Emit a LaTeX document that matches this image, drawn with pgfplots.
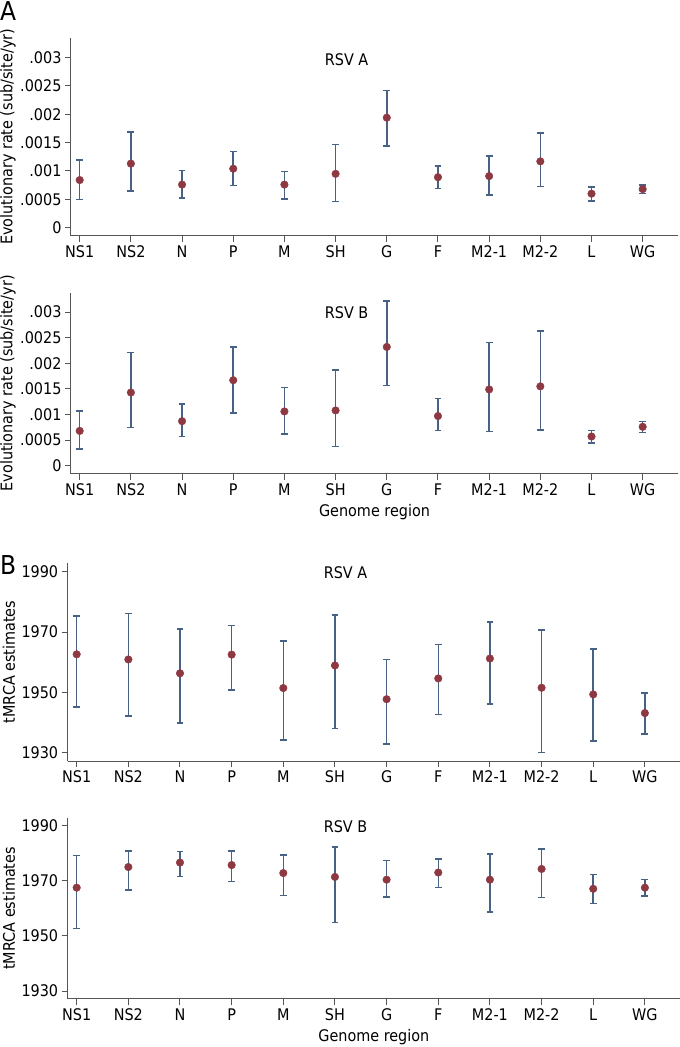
\documentclass[border=0pt]{standalone}
\usepackage{pgfplots}
\pgfplotsset{compat=1.18}
\usepackage{pgfplotstable}
\usepackage{fontspec}
\setmainfont{DejaVu Sans}[FakeStretch=0.9]
\definecolor{barcol}{RGB}{72,98,134}
\definecolor{dotcol}{RGB}{142,56,66}
\definecolor{axcol}{RGB}{85,85,85}

\pgfplotstableread{
x y lo hi
0 0.00084 0.00050 0.00119
1 0.00113 0.00065 0.00169
2 0.00076 0.00052 0.00101
3 0.00104 0.00074 0.00134
4 0.00076 0.00051 0.00099
5 0.00095 0.00046 0.00147
6 0.00194 0.00144 0.00242
7 0.00089 0.00069 0.00109
8 0.00091 0.00058 0.00126
9 0.00117 0.00073 0.00167
10 0.00060 0.00047 0.00072
11 0.00068 0.00060 0.00075
}\rateA

\pgfplotstableread{
x y lo hi
0 0.00068 0.00033 0.00107
1 0.00143 0.00075 0.00221
2 0.00087 0.00057 0.00121
3 0.00167 0.00103 0.00232
4 0.00106 0.00062 0.00153
5 0.00108 0.00038 0.00187
6 0.00232 0.00157 0.00322
7 0.00097 0.00069 0.00131
8 0.00149 0.00067 0.00241
9 0.00155 0.00070 0.00263
10 0.00057 0.00044 0.00069
11 0.00076 0.00065 0.00086
}\rateB

\pgfplotstableread{
x y lo hi
0 1962.6 1945.1 1975.3
1 1960.9 1942.2 1976.1
2 1956.3 1939.8 1971.0
3 1962.5 1950.7 1972.2
4 1951.4 1934.1 1967.0
5 1958.9 1938.0 1975.7
6 1947.7 1932.8 1960.9
7 1954.6 1942.6 1965.8
8 1961.2 1946.1 1973.4
9 1951.5 1930.0 1970.6
10 1949.3 1933.9 1964.4
11 1943.1 1936.1 1949.7
}\tmrcaA

\pgfplotstableread{
x y lo hi
0 1967.5 1952.7 1979.2
1 1975.0 1966.7 1980.9
2 1976.6 1971.6 1980.6
3 1975.7 1969.7 1980.9
4 1972.8 1964.6 1979.4
5 1971.4 1954.8 1982.3
6 1970.4 1964.1 1977.3
7 1973.0 1967.6 1977.9
8 1970.4 1958.7 1979.8
9 1974.3 1963.9 1981.5
10 1967.1 1961.7 1972.3
11 1967.5 1964.5 1970.5
}\tmrcaB

\newcommand{\fs}{\fontsize{16}{19}\selectfont}
\pgfplotsset{
  panel/.style={
    scale only axis,
    axis lines*=left,
    axis line style={axcol, line width=1pt, -},
    tick style={axcol, line width=1pt},
    tick align=outside,
    major tick length=6pt,
    scaled y ticks=false,
    xtick={0,...,11},
    xticklabels={NS1,NS2,N,P,M,SH,G,F,M2-1,M2-2,L,WG},
    tick label style={font=\fs, text=black},
    label style={font=\fs},
    clip=false,
  },
  pts/.style={
    draw=none, mark=*, mark size=3.8pt,
    mark options={fill=dotcol, draw=dotcol},
    error bars/.cd, y dir=both, y explicit,
    error mark=|,
    error bar style={barcol, line width=1.5pt},
    error mark options={barcol, line width=1.5pt, mark size=3.4pt},
  },
}

\begin{document}
\begin{tikzpicture}
\path[use as bounding box] (0,0) rectangle (680pt,1047pt);

% Panel A top
\begin{axis}[panel, at={(71pt,811pt)}, width=607pt, height=198.3pt,
  xmin=-0.17, xmax=11.69, ymin=-0.000146, ymax=0.00335,
  ytick={0,0.0005,0.001,0.0015,0.002,0.0025,0.003},
  yticklabels={0,.0005,.001,.0015,.002,.0025,.003},
  ylabel={Evolutionary rate (sub/site/yr)},
  ylabel style={at={(rel axis cs:0,0.5)}, anchor=center, yshift=63pt}]
\addplot[pts] table[x=x, y=y, y error plus expr=\thisrow{hi}-\thisrow{y}, y error minus expr=\thisrow{y}-\thisrow{lo}] {\rateA};
\node[anchor=base west, font=\fs, inner sep=0] at (rel axis cs:0.418,0.862) {RSV A};
\end{axis}

% Panel A bottom
\begin{axis}[panel, at={(71pt,573pt)}, width=607pt, height=181.3pt,
  xmin=-0.17, xmax=11.69, ymin=-0.000162, ymax=0.00338,
  ytick={0,0.0005,0.001,0.0015,0.002,0.0025,0.003},
  yticklabels={0,.0005,.001,.0015,.002,.0025,.003},
  ylabel={Evolutionary rate (sub/site/yr)},
  ylabel style={at={(rel axis cs:0,0.5)}, anchor=center, yshift=63pt},
  xlabel={Genome region},
  xlabel style={at={(rel axis cs:0.5,0)}, anchor=center, yshift=-38.5pt}]
\addplot[pts] table[x=x, y=y, y error plus expr=\thisrow{hi}-\thisrow{y}, y error minus expr=\thisrow{y}-\thisrow{lo}] {\rateB};
\node[anchor=base west, font=\fs, inner sep=0] at (rel axis cs:0.418,0.859) {RSV B};
\end{axis}

% Panel B top
\begin{axis}[panel, at={(67.7pt,285.7pt)}, width=612.3pt, height=198.6pt,
  xmin=-0.174, xmax=11.68, ymin=1927.1, ymax=1993.0,
  ytick={1930,1950,1970,1990},
  yticklabels={1930,1950,1970,1990},
  ylabel={tMRCA estimates},
  ylabel style={at={(rel axis cs:0,0.5)}, anchor=center, yshift=58.7pt}]
\addplot[pts] table[x=x, y=y, y error plus expr=\thisrow{hi}-\thisrow{y}, y error minus expr=\thisrow{y}-\thisrow{lo}] {\tmrcaA};
\node[anchor=base west, font=\fs, inner sep=0] at (rel axis cs:0.418,0.921) {RSV A};
\end{axis}

% Panel B bottom
\begin{axis}[panel, at={(67.7pt,48pt)}, width=612.3pt, height=181.3pt,
  xmin=-0.174, xmax=11.68, ymin=1927.1, ymax=1992.9,
  ytick={1930,1950,1970,1990},
  yticklabels={1930,1950,1970,1990},
  ylabel={tMRCA estimates},
  ylabel style={at={(rel axis cs:0,0.5)}, anchor=center, yshift=58.7pt},
  xlabel={Genome region},
  xlabel style={at={(rel axis cs:0.5,0)}, anchor=center, yshift=-37.7pt}]
\addplot[pts] table[x=x, y=y, y error plus expr=\thisrow{hi}-\thisrow{y}, y error minus expr=\thisrow{y}-\thisrow{lo}] {\tmrcaB};
\node[anchor=base west, font=\fs, inner sep=0] at (rel axis cs:0.418,0.917) {RSV B};
\end{axis}

\node[anchor=base west, inner sep=0, font=\fontsize{26}{30}\selectfont] at (0pt,1026.3pt) {A};
\node[anchor=base west, inner sep=0, font=\fontsize{26}{30}\selectfont] at (0pt,472pt) {B};
\end{tikzpicture}
\end{document}
